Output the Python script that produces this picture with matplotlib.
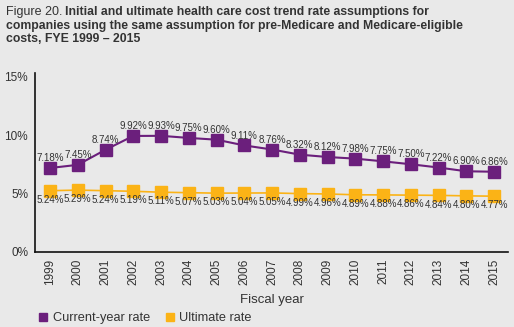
import matplotlib
matplotlib.use("Agg")
import matplotlib.pyplot as plt

years = [str(y) for y in range(1999, 2016)]
current_rate = [7.18, 7.45, 8.74, 9.92, 9.93, 9.75, 9.60, 9.11, 8.76, 8.32,
                8.12, 7.98, 7.75, 7.50, 7.22, 6.90, 6.86]
ultimate_rate = [5.24, 5.29, 5.24, 5.19, 5.11, 5.07, 5.03, 5.04, 5.05, 4.99,
                 4.96, 4.89, 4.88, 4.86, 4.84, 4.80, 4.77]

bg = '#e9e9e9'
purple = '#6b1f7c'
orange = '#fbb316'
txt = '#333333'

plt.rcParams['font.family'] = ['Liberation Sans', 'DejaVu Sans']

fig = plt.figure(figsize=(5.14, 3.27), dpi=100, facecolor=bg)
ax = fig.add_axes([35 / 514, 1 - 252 / 327, 473 / 514, 179 / 327], facecolor=bg)

x = list(range(len(years)))
ax.plot(x, current_rate, color=purple, lw=1.5, marker='s', ms=8.5,
        label='Current-year rate')
ax.plot(x, ultimate_rate, color=orange, lw=1.2, marker='s', ms=8.5,
        label='Ultimate rate')

for i, v in enumerate(current_rate):
    ax.annotate(f'{v:.2f}%', (i, v), xytext=(0, 3.5), textcoords='offset points',
                ha='center', va='bottom', fontsize=7, color=txt)
for i, v in enumerate(ultimate_rate):
    ax.annotate(f'{v:.2f}%', (i, v), xytext=(0, -3), textcoords='offset points',
                ha='center', va='top', fontsize=7, color=txt)

ax.set_ylim(0, 15.3)
ax.set_xlim(-0.54, 16.5)
ax.set_yticks([0, 5, 10, 15])
ax.set_yticklabels(['0%', '5%', '10%', '15%'])
ax.set_xticks(x)
ax.set_xticklabels(years, rotation=90)
ax.tick_params(length=0, labelsize=8.5, colors=txt, pad=5)
ax.tick_params(axis='y', pad=5)
for s in ['top', 'right']:
    ax.spines[s].set_visible(False)
for s in ['left', 'bottom']:
    ax.spines[s].set_color('#111111')
    ax.spines[s].set_linewidth(1.2)

ax.set_xlabel('Fiscal year', fontsize=9.5, color=txt, labelpad=6)

leg = fig.legend(loc='center left', bbox_to_anchor=(27 / 514, 1 - 318 / 327),
                 ncol=2, frameon=False, fontsize=9.2, handlelength=0.7,
                 handletextpad=0.4, columnspacing=1.2, labelcolor=txt)
for h in leg.legend_handles:
    h.set_linestyle('none')
    h.set_markersize(6)

# title: first words regular, the rest bold
fig.canvas.draw()
r = fig.canvas.get_renderer()
t1 = fig.text(6 / 514, 1 - 12 / 327, 'Figure 20.', fontsize=9, color=txt,
              va='center')
bb = t1.get_window_extent(r)
fig.text((bb.x1 + 3) / 514, 1 - 12 / 327,
         'Initial and ultimate health care cost trend rate assumptions for',
         fontsize=8.85, fontweight='bold', color=txt, va='center')
fig.text(6 / 514, 1 - 25.5 / 327,
         'companies using the same assumption for pre-Medicare and Medicare-eligible',
         fontsize=8.85, fontweight='bold', color=txt, va='center')
fig.text(6 / 514, 1 - 39 / 327, 'costs, FYE 1999 \u2013 2015',
         fontsize=8.85, fontweight='bold', color=txt, va='center')

fig.savefig('out.png', dpi=100, facecolor=bg)
